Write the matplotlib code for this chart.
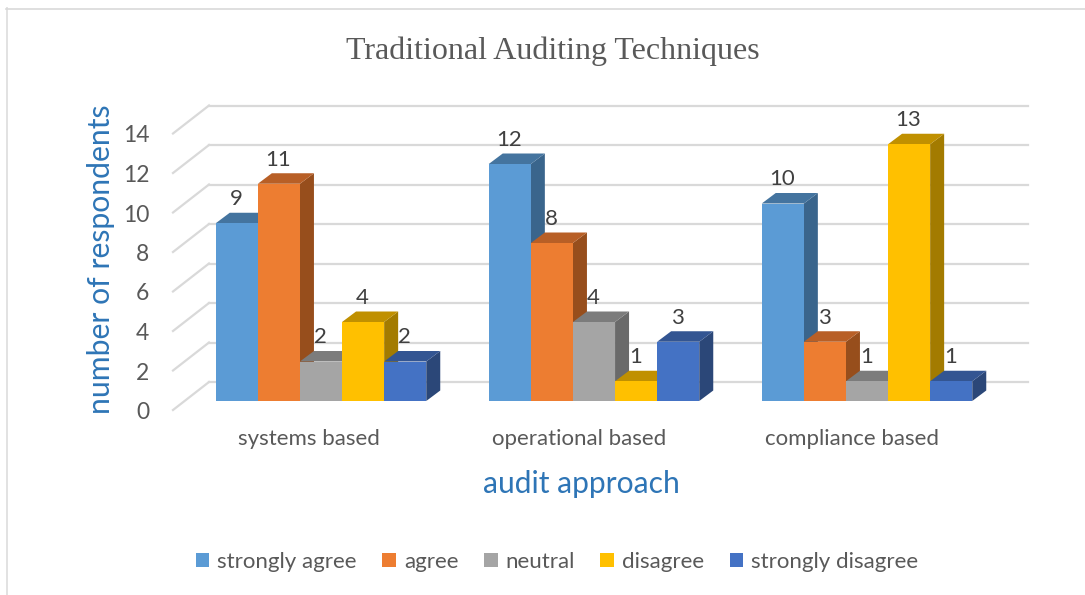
import numpy as np
import matplotlib
matplotlib.use("Agg")
import matplotlib.pyplot as plt
from matplotlib.patches import Patch, Polygon
from matplotlib.transforms import ScaledTranslation

categories = ["systems based", "operational based", "compliance based"]
series = ["strongly agree", "agree", "neutral", "disagree", "strongly disagree"]
strongly_agree = [9, 12, 10]
agree = [11, 8, 3]
neutral = [2, 4, 1]
disagree = [4, 1, 13]
strongly_disagree = [2, 3, 1]
values = [strongly_agree, agree, neutral, disagree, strongly_disagree]
yticks = [0, 2, 4, 6, 8, 10, 12, 14]

front = ["#5B9BD5", "#ED7D31", "#A5A5A5", "#FFC000", "#4472C4"]
top = ["#44749F", "#B85F26", "#7C7C7C", "#C09000", "#335592"]
side = ["#3A658C", "#974E1C", "#6A6A6A", "#A37B00", "#2B4778"]

W, H = 1085, 595
plt.rcParams["font.family"] = ["Lato", "DejaVu Sans"]

fig = plt.figure(figsize=(W / 100, H / 100), dpi=100)

# axes box is the front plane of the bars, in pixels
px_unit = 19.75
left, right = 173, 1028
base = 401
ax = fig.add_axes([left / W, 1 - base / H, (right - left) / W, 14 * px_unit / H])
group_px = 273
ax.set_xlim((left - 321) / group_px, (right - 321) / group_px)
ax.set_ylim(0, 14)
for s in ax.spines.values():
    s.set_visible(False)
ax.patch.set_visible(False)

bar_w = 42.1 / group_px
dx = 14 / group_px
dy = 10.5 / px_unit

# back wall and floor lines
gx0 = (209 - 321) / group_px
gx_front = (173 - 321) / group_px
gx1 = (1028 - 321) / group_px
for t in yticks:
    yb = t + (401 - 382) / px_unit
    yf = t - (410 - 401) / px_unit
    ax.plot([gx0, gx1], [yb, yb], color="#D9D9D9", lw=1.6, zorder=1, clip_on=False)
    ax.plot([gx_front, gx0], [yf, yb], color="#D9D9D9", lw=1.6, zorder=1, clip_on=False)

z = 2
for g in range(len(categories)):
    for i in range(len(series)):
        v = values[i][g]
        x0 = g + (i - 2.5) * bar_w
        x1 = x0 + bar_w
        ax.add_patch(Polygon([(x1, 0), (x1 + dx, dy), (x1 + dx, v + dy), (x1, v)],
                             fc=side[i], ec="none", zorder=z, clip_on=False))
        ax.add_patch(Polygon([(x0, v), (x0 + dx, v + dy), (x1 + dx, v + dy), (x1, v)],
                             fc=top[i], ec="none", zorder=z, clip_on=False))
        ax.bar(x0, v, bar_w, align="edge", color=front[i], zorder=z + 0.5, clip_on=False)
        ax.annotate(str(v), (x0 + bar_w / 2, v), xytext=(-0.5, 17.3), textcoords="offset points",
                    ha="center", va="center", fontsize=16, color="#404040",
                    zorder=50, annotation_clip=False)
        z += 1

ax.set_yticks(yticks)
ax.set_yticklabels([str(t) for t in yticks], fontsize=16.5, color="#595959")
ax.tick_params(axis="y", length=0, pad=17)
shift = ScaledTranslation(0, -9.5 / 100, fig.dpi_scale_trans)
for lab in ax.get_yticklabels():
    lab.set_transform(lab.get_transform() + shift)

ax.set_xticks([(309 - 321) / group_px, 1 + (579 - 594) / group_px, 2 + (852 - 867) / group_px])
ax.set_xticklabels(categories, fontsize=16, color="#595959")
ax.tick_params(axis="x", length=0, pad=20.5)

fig.text(101 / W, 1 - 259 / H, "number of respondents", rotation=90, ha="center", va="center",
         fontsize=21.7, color="#2E75B6")
fig.text(581 / W, 1 - 484 / H, "audit approach", ha="center", va="center",
         fontsize=21.6, color="#2E75B6")
fig.text(553 / W, 1 - 51 / H, "Traditional Auditing Techniques", ha="center", va="center",
         fontsize=23, color="#595959", family="Liberation Serif")

handles = [Patch(fc=c, ec="none") for c in front]
fig.legend(handles, series, loc="center", bbox_to_anchor=(557 / W, 1 - 562 / H), ncol=5,
           frameon=False, fontsize=16, labelcolor="#595959", handlelength=0.62, handleheight=0.62,
           handletextpad=0.35, columnspacing=1.15)

# chart frame
fig.add_artist(plt.Line2D([6.5 / W, 6.5 / W], [0, 1 - 8 / H], color="#E2E2E2", lw=1.4))
fig.add_artist(plt.Line2D([6 / W, 1], [1 - 8.5 / H, 1 - 8.5 / H], color="#D9D9D9", lw=1.2))

fig.savefig("out.png", dpi=100)
